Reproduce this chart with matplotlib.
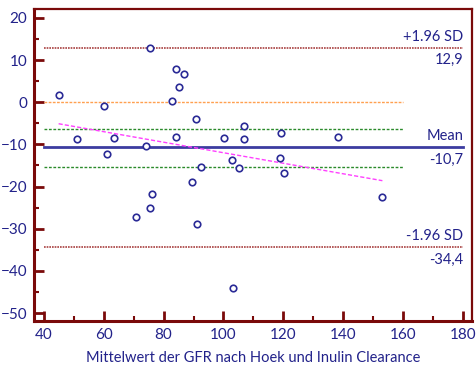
import matplotlib
matplotlib.use("Agg")
import matplotlib.pyplot as plt
from matplotlib.ticker import MultipleLocator

# Bland-Altman: mean of GFR (Hoek / inulin clearance) vs. difference
gfr_mean = [45.0, 51.0, 60.2, 61.2, 63.5, 70.9, 74.3, 75.5, 75.5, 76.2,
            82.7, 84.0, 84.2, 85.1, 86.9, 89.4, 90.9, 91.1, 92.4, 100.2,
            102.9, 103.1, 105.1, 106.9, 106.9, 118.7, 119.1, 120.2, 138.1, 152.8]
gfr_diff = [1.7, -8.6, -0.8, -12.3, -8.4, -27.1, -10.3, 12.9, -25.0, -21.7,
            0.4, 7.8, -8.2, 3.6, 6.6, -18.8, -4.0, -28.8, -15.3, -8.5,
            -13.8, -44.1, -15.6, -5.6, -8.8, -13.3, -7.2, -16.8, -8.2, -22.5]

mean_diff = -10.7
upper_loa = 12.9
lower_loa = -34.4
mean_ci = [-6.3, -15.3]       # 95% CI of the mean difference
reg_x = [45.0, 153.0]         # regression line end points
reg_y = [-5.1, -18.6]

TXT = "#22228a"
AX = "#7a0a0a"

plt.rcParams["font.family"] = ["Lato", "DejaVu Sans"]

fig = plt.figure(figsize=(4.77, 3.68), dpi=100)
ax = fig.add_axes([0.0713, 0.1285, 0.9177, 0.847])

ax.plot([40, 180], [upper_loa, upper_loa], color="#a84040", lw=1.2, ls=(0, (1, 0.6)))
ax.plot([40, 180], [lower_loa, lower_loa], color="#a84040", lw=1.2, ls=(0, (1, 0.6)))
ax.plot([40, 180], [mean_diff, mean_diff], color="#3c3ca0", lw=2.0)
ax.plot([40, 160], [0, 0], color="#ffa050", lw=1.0, ls=(0, (2, 1)))
for c in mean_ci:
    ax.plot([40, 160], [c, c], color="#2a8a2a", lw=1.0, ls=(0, (2, 1.2)))
ax.plot(reg_x, reg_y, color="#ff40ff", lw=1.0, ls=(0, (3, 1.5)))

ax.scatter(gfr_mean, gfr_diff, s=22, facecolors="white", edgecolors="#2a2a96",
           linewidths=1.2, zorder=5)

lab = dict(color=TXT, fontsize=10.5, ha="right", textcoords="offset points")
ax.annotate("+1.96 SD", (180, upper_loa), xytext=(0, 3), va="bottom", **lab)
ax.annotate("12,9", (180, upper_loa), xytext=(0, -4), va="top", **lab)
ax.annotate("Mean", (180, mean_diff), xytext=(0, 3), va="bottom", **lab)
ax.annotate("-10,7", (180, mean_diff), xytext=(0, -4), va="top", **lab)
ax.annotate("-1.96 SD", (180, lower_loa), xytext=(0, 3), va="bottom", **lab)
ax.annotate("-34,4", (180, lower_loa), xytext=(0, -4), va="top", **lab)

ax.xaxis.set_minor_locator(MultipleLocator(10))
ax.yaxis.set_minor_locator(MultipleLocator(5))
ax.set_xticks(range(40, 181, 20))
ax.set_yticks(range(-50, 21, 10))
ax.set_xlim(36.8, 182.8)
ax.set_ylim(-51.8, 22.1)

for s in ax.spines.values():
    s.set_color(AX)
    s.set_linewidth(1.6)
ax.spines["left"].set_linewidth(2.2)
ax.spines["bottom"].set_linewidth(2.2)

ax.tick_params(which="major", direction="in", length=7, width=2, color=AX,
               labelcolor=TXT, labelsize=11, pad=5)
ax.tick_params(which="minor", direction="in", length=3.5, width=1.5, color=AX)

ax.set_xlabel("Mittelwert der GFR nach Hoek und Inulin Clearance",
              color=TXT, fontsize=10.5, labelpad=7)

fig.savefig("out.png", dpi=100)
